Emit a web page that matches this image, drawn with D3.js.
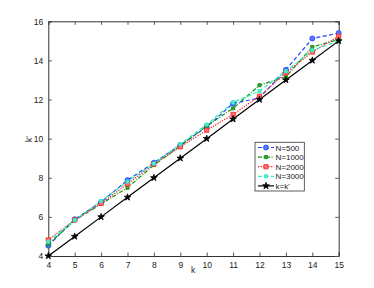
<!DOCTYPE html>
<html><head><meta charset="utf-8">
<script src="https://cdn.jsdelivr.net/npm/d3@7"></script>
<style>body{margin:0;background:#fff}svg{display:block}text{font-family:"Liberation Sans",Arial,sans-serif}</style>
</head><body><svg id="c" width="374" height="288"></svg>
<script>
const kValues = [4,5,6,7,8,9,10,11,12,13,14,15];
const n500  = [4.53,5.88,6.75,7.88,8.77,9.67,10.6,11.8,12.08,13.52,15.12,15.4];
const n1000 = [4.6,5.82,6.66,7.49,8.65,9.62,10.65,11.55,12.73,13.16,14.69,15.07];
const n2000 = [4.82,5.85,6.69,7.68,8.7,9.58,10.43,11.24,12.17,13.36,14.43,15.24];
const n3000 = [4.73,5.84,6.81,7.8,8.73,9.72,10.72,11.85,12.43,13.45,14.52,15.0];
const ideal = [4,5,6,7,8,9,10,11,12,13,14,15];
const xTicks = [4,5,6,7,8,9,10,11,12,13,14,15];
const yTicks = [4,6,8,10,12,14,16];
const seriesNames = ["N=500","N=1000","N=2000","N=3000","k=k'"];

const svg = d3.select("#c");
const L=48.3, R=338.7, T=21.3, B=256;
const x = d3.scaleLinear().domain([4,15]).range([L,R]);
const y = d3.scaleLinear().domain([4,16]).range([B,T]);

const series = [
  {name:seriesNames[0], v:n500, color:"#2244ff", dash:"4,2.5", sym:d3.symbolCircle, size:20, fill:"#5577ff"},
  {name:seriesNames[1], v:n1000, color:"#109010", dash:"4,1.5,1,1.5", sym:d3.symbolSquare, size:10, fill:"#30a030"},
  {name:seriesNames[2], v:n2000, color:"#ff2020", dash:"1.3,1.3", sym:d3.symbolSquare, size:18, fill:"#ff7070"},
  {name:seriesNames[3], v:n3000, color:"#22eebb", dash:"4,2.5", sym:d3.symbolSquare, size:10, fill:"#55eecc"},
  {name:seriesNames[4], v:ideal, color:"#000000", dash:null, sym:d3.symbolStar, size:14, fill:"#000"}
];

const ax = svg.append("g");
const fs = 8.5;
const xa = d3.axisBottom(x).tickValues(xTicks).tickSize(-3.5).tickPadding(6).tickFormat(d3.format("d"));
const ya = d3.axisLeft(y).tickValues(yTicks).tickSize(-3.5).tickPadding(5).tickFormat(d3.format("d"));
const xt = d3.axisTop(x).tickValues(xTicks).tickSize(-3.5).tickFormat("");
const yr = d3.axisRight(y).tickValues(yTicks).tickSize(-3.5).tickFormat("");
function style(g){g.select(".domain").attr("stroke","#333").attr("stroke-width",1);g.selectAll(".tick line").attr("stroke","#555");g.selectAll("text").attr("font-size",fs).attr("fill","#222").attr("font-family","Liberation Sans, Arial, sans-serif");}
ax.append("g").attr("transform",`translate(0,${B})`).call(xa).call(style);
ax.append("g").attr("transform",`translate(${L},0)`).call(ya).call(style);
ax.append("g").attr("transform",`translate(0,${T})`).call(xt).call(style);
ax.append("g").attr("transform",`translate(${R},0)`).call(yr).call(style);

const line = d3.line().x((d,i)=>x(kValues[i])).y(d=>y(d));
const plot = svg.append("g");
series.forEach(s=>{
  plot.append("path").attr("d",line(s.v)).attr("fill","none").attr("stroke",s.color)
    .attr("stroke-width",1.2).attr("stroke-dasharray",s.dash);
});
series.forEach(s=>{
  plot.selectAll(null).data(s.v).enter().append("path")
    .attr("d",d3.symbol().type(s.sym).size(s.size))
    .attr("transform",(d,i)=>`translate(${x(kValues[i])},${y(d)})`)
    .attr("fill",s.fill).attr("stroke",s.color).attr("stroke-width",0.8);
});

svg.append("text").attr("x",193).attr("y",273).attr("text-anchor","middle").attr("font-size",fs).attr("fill","#222").text("k");
svg.append("text").attr("transform","translate(32,139) rotate(-90)").attr("text-anchor","middle").attr("font-size",fs).attr("fill","#222").text("k'");

const lg = svg.append("g");
lg.append("rect").attr("x",255).attr("y",142.3).attr("width",49.3).attr("height",48.7).attr("fill","#fff").attr("stroke","#333").attr("stroke-width",0.8);
series.forEach((s,i)=>{
  const yy = 147.5 + i*9.6;
  lg.append("line").attr("x1",258).attr("x2",274).attr("y1",yy).attr("y2",yy).attr("stroke",s.color).attr("stroke-width",1.2).attr("stroke-dasharray",s.dash);
  lg.append("path").attr("d",d3.symbol().type(s.sym).size(s.size)).attr("transform",`translate(266,${yy})`).attr("fill",s.fill).attr("stroke",s.color).attr("stroke-width",0.8);
  lg.append("text").attr("x",275.5).attr("y",yy+3).attr("font-size",8).attr("fill","#222").text(s.name);
});
</script></body></html>
